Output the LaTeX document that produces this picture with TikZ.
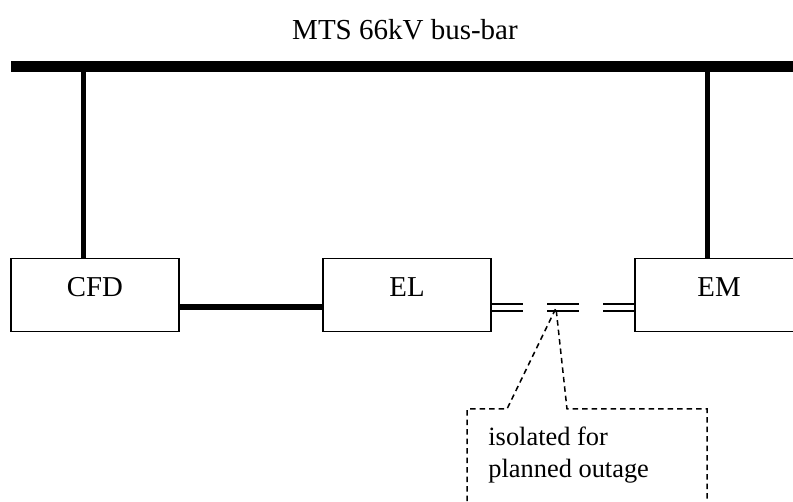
\documentclass[tikz,border=0pt]{standalone}
\usepackage{fontspec}
\setmainfont{Liberation Serif}
\begin{document}
\begin{tikzpicture}[x=0.5pt,y=-0.5pt,
  unit/.style={draw,line width=0.75pt,minimum width=84pt,minimum height=36.5pt,
    inner sep=0pt,text height=10pt,text depth=8pt,font=\fontsize{14.4}{17}\selectfont},
  feeder/.style={line width=2.5pt},
  openpt/.style={double,line width=0.75pt,double distance=2.75pt},
  note/.style={dash pattern=on 2.75pt off 2pt,line width=0.75pt}]
\useasboundingbox (0,0) rectangle (793,502);
\clip (0,0) rectangle (793,502);
% bus-bar
\node[font=\fontsize{14.5}{17}\selectfont] (title) at (405,30) {MTS 66kV bus-bar};
\coordinate (busL) at (11,67);
\coordinate (busR) at (800,67);
\draw[line width=5.5pt] (busL) -- (busR);
% stations (EM runs off the right edge)
\node[unit] (CFD) at (95,295) {CFD};
\node[unit] (EL) at (407,295) {EL};
\node[unit,minimum width=100pt,text width=84pt,align=center,xshift=8pt] (EM) at (719,295) {\hspace*{-16pt}EM};
\coordinate (tapA) at (83,67);
\coordinate (tapB) at (707,67);
\draw[feeder] (tapA) -- (tapA |- CFD.north);
\draw[feeder] (tapB) -- (tapB |- EM.north);
\draw[line width=3pt] ([yshift=-6pt]CFD.east) -- ([yshift=-6pt]EL.west);
% open points
\coordinate (swA) at (523,307.5);
\coordinate (swB) at (547,307.5);
\coordinate (swC) at (579,307.5);
\coordinate (swD) at (603,307.5);
\draw[openpt] (EL.east |- swA) -- (swA);
\draw[openpt] (swB) -- (swC);
\draw[openpt] (swD) -- (EM.west |- swD);
% callout
\coordinate (tip) at (556,308);
\coordinate (boxL) at (467,409);
\coordinate (boxR) at (707,409);
\draw[note] (boxL |- 0,520) -- (boxL) -- (507,409) -- (tip) -- (567,409) -- (boxR) -- (boxR |- 0,520);
\node[anchor=base west,align=left,inner sep=0pt,
  font=\fontsize{13.2}{16}\selectfont] (remark) at (488,477) {isolated for\\planned outage};
\end{tikzpicture}
\end{document}
